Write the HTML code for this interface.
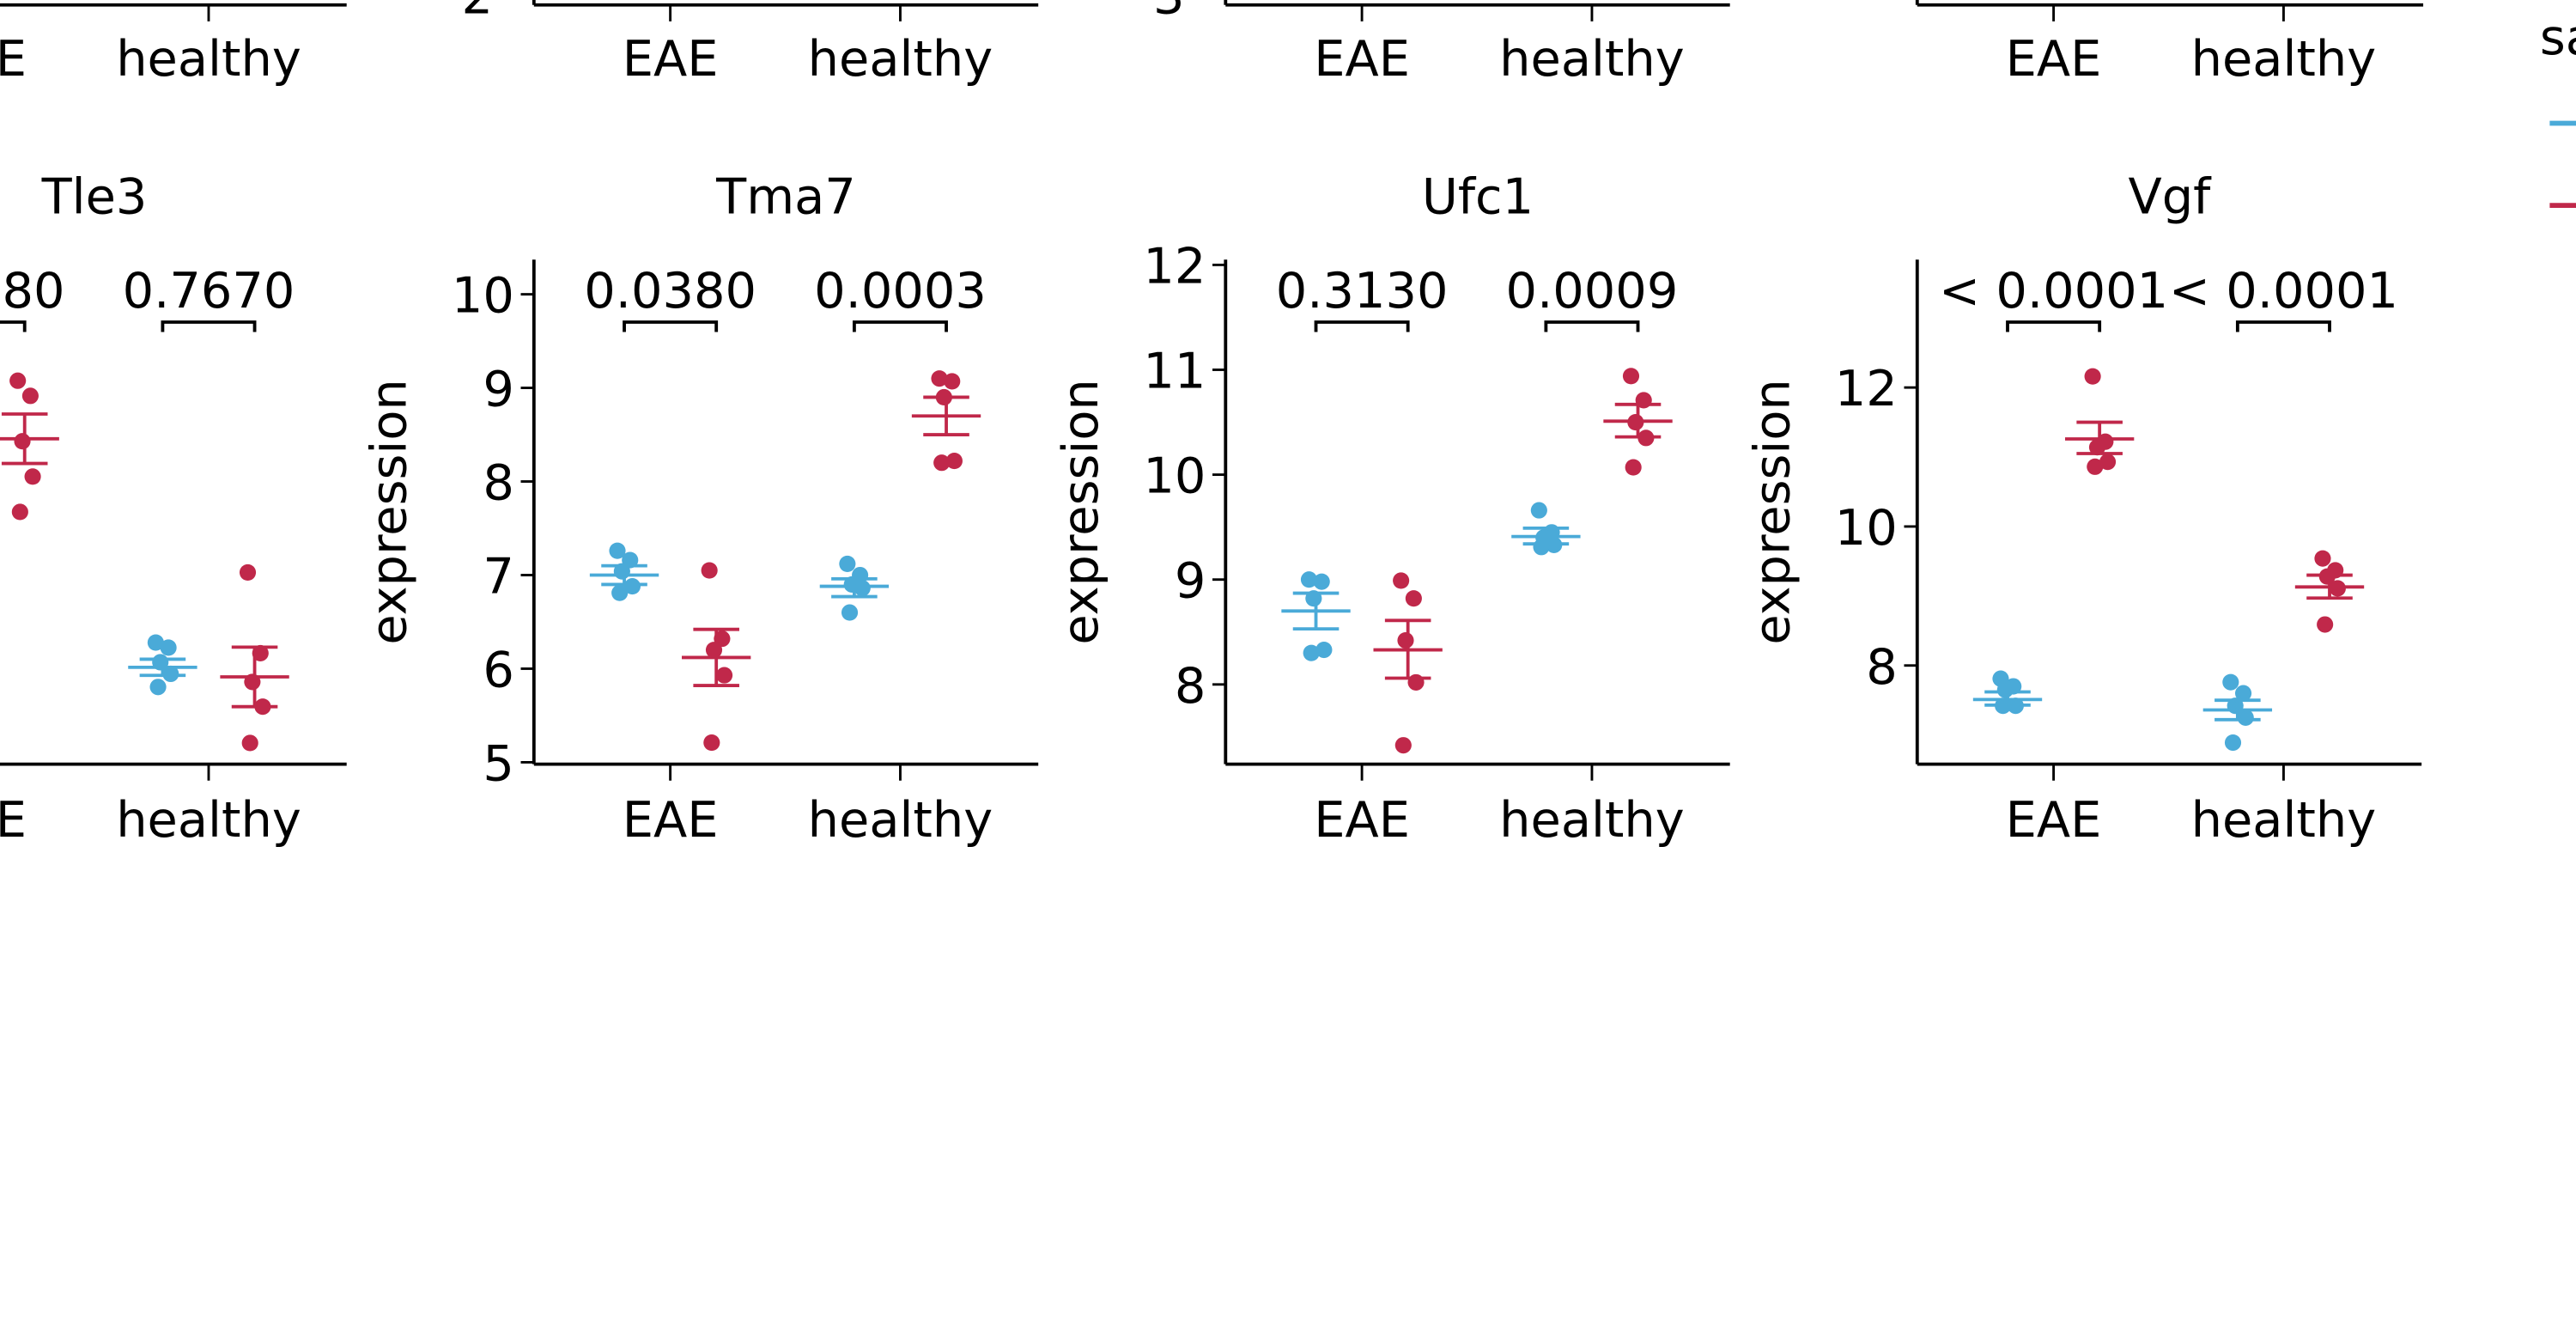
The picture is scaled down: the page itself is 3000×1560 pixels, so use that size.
<!DOCTYPE html>
<html><head><meta charset="utf-8"><style>
html,body{margin:0;padding:0;background:#fff;overflow:hidden}
svg{display:block}
text{font-family:"DejaVu Sans","Liberation Sans",sans-serif;fill:#000}
</style></head><body>
<svg id="chart" xmlns="http://www.w3.org/2000/svg" width="3000" height="1560" viewBox="0 0 1568 815.4" preserveAspectRatio="none"></svg>
<script>
// ---- data ----
const categories = ["EAE", "healthy"];
const genes = ["Tle3", "Tma7", "Ufc1", "Vgf"];
const tle3Blue = [[], [2.41, 2.31, 2.02, 1.79, 1.53]];
const tle3Red = [[7.6, 7.3, 6.4, 5.7, 5.0], [3.8, 2.2, 1.63, 1.14, 0.42]];
const tle3BlueMean = [[null, null, null], [1.92, 2.08, 1.76]];
const tle3RedMean = [[6.45, 6.94, 5.96], [1.73, 2.32, 1.14]];
const tma7Blue = [[7.26, 7.16, 7.04, 6.88, 6.81], [7.12, 7.0, 6.9, 6.86, 6.6]];
const tma7Red = [[7.05, 6.32, 6.2, 5.93, 5.21], [9.1, 9.07, 8.9, 8.22, 8.2]];
const tma7BlueMean = [[7.0, 7.1, 6.9], [6.88, 6.96, 6.77]];
const tma7RedMean = [[6.12, 6.42, 5.82], [8.7, 8.9, 8.5]];
const ufc1Blue = [[9.0, 8.98, 8.82, 8.33, 8.30], [9.66, 9.45, 9.4, 9.33, 9.31]];
const ufc1Red = [[8.99, 8.82, 8.42, 8.02, 7.42], [10.94, 10.71, 10.5, 10.35, 10.07]];
const ufc1BlueMean = [[8.7, 8.87, 8.53], [9.41, 9.49, 9.34]];
const ufc1RedMean = [[8.33, 8.61, 8.06], [10.51, 10.67, 10.36]];
const vgfBlue = [[7.81, 7.7, 7.65, 7.42, 7.42], [7.76, 7.6, 7.42, 7.25, 6.89]];
const vgfRed = [[12.16, 11.22, 11.14, 10.93, 10.86], [9.54, 9.37, 9.28, 9.11, 8.59]];
const vgfBlueMean = [[7.51, 7.62, 7.43], [7.36, 7.5, 7.22]];
const vgfRedMean = [[11.26, 11.5, 11.05], [9.13, 9.3, 8.97]];
const pTle3 = ["0.5780", "0.7670"];
const pTma7 = ["0.0380", "0.0003"];
const pUfc1 = ["0.3130", "0.0009"];
const pVgf = ["< 0.0001", "< 0.0001"];
const ticksTle3 = [];
const ticksTma7 = [5, 6, 7, 8, 9, 10];
const ticksUfc1 = [8, 9, 10, 11, 12];
const ticksVgf = [8, 10, 12];
const domTle3 = [0, 10];
const domTma7 = [4.98, 10.37];
const domUfc1 = [7.24, 12.05];
const domVgf = [6.58, 13.84];
const jitter = [-0.3, 0.25, -0.1, 0.35, -0.2];

const NS = "http://www.w3.org/2000/svg";
const svg = document.getElementById("chart");
const BLUE = "#4aaad8", RED = "#c0284a";
const FS = 30;
function mk(tag, attrs, parent) {
  const e = document.createElementNS(NS, tag);
  for (const k in attrs) e.setAttribute(k, attrs[k]);
  (parent || svg).appendChild(e);
  return e;
}
function txt(s, x, y, size, anchor, parent) {
  const t = mk("text", {x: x, y: y, "font-size": size, "text-anchor": anchor || "middle"}, parent);
  t.textContent = s;
  return t;
}

const topAxes = [[-96, 211], [325, 632], [746, 1053], [1167, 1475]];
topAxes.forEach((ax, i) => {
  const g = mk("g", {});
  
  
  mk("line", {x1: ax[0], y1: 3, x2: ax[1], y2: 3, stroke: "#000", "stroke-width": 2}, g);
  if (i > 0) mk("line", {x1: ax[0], y1: -10, x2: ax[0], y2: 3, stroke: "#000", "stroke-width": 2}, g);
  categories.forEach((c, j) => {
    const x = ax[0] + 83 + j * 140;
    mk("line", {x1: x, y1: 3, x2: x, y2: 13, stroke: "#000", "stroke-width": 1.5}, g);
    txt(c, x, 46, FS, "middle", g);
  });
  if (i === 1) txt("2", 300, 8, FS, "end", g);
  if (i === 2) txt("3", 721, 8, FS, "end", g);
});

const lg = mk("g", {});


txt("sample", 1546, 33, FS, "start", lg);
mk("line", {x1: 1552, y1: 75, x2: 1580, y2: 75, stroke: BLUE, "stroke-width": 3}, lg);
mk("line", {x1: 1552, y1: 125, x2: 1580, y2: 125, stroke: RED, "stroke-width": 3}, lg);

const panels = [
  {name: "Tle3", x0: -96, blue: tle3Blue, red: tle3Red, bm: tle3BlueMean, rm: tle3RedMean, p: pTle3, ticks: ticksTle3, dom: domTle3},
  {name: "Tma7", x0: 325, blue: tma7Blue, red: tma7Red, bm: tma7BlueMean, rm: tma7RedMean, p: pTma7, ticks: ticksTma7, dom: domTma7},
  {name: "Ufc1", x0: 746, blue: ufc1Blue, red: ufc1Red, bm: ufc1BlueMean, rm: ufc1RedMean, p: pUfc1, ticks: ticksUfc1, dom: domUfc1},
  {name: "Vgf", x0: 1167, blue: vgfBlue, red: vgfRed, bm: vgfBlueMean, rm: vgfRedMean, p: pVgf, ticks: ticksVgf, dom: domVgf}
];
const TOP = 158, BOT = 465, W = 307;

panels.forEach(P => {
  const g = mk("g", {});
  
  
  const yS = v => BOT - (v - P.dom[0]) / (P.dom[1] - P.dom[0]) * (BOT - TOP);
  const xS = i => P.x0 + 83 + i * 140;
  const t = txt(P.name, P.x0 + W / 2, 130, FS, "middle", g);
  
  mk("line", {x1: P.x0, y1: TOP, x2: P.x0, y2: BOT, stroke: "#000", "stroke-width": 2}, g);
  mk("line", {x1: P.x0, y1: BOT, x2: P.x0 + W, y2: BOT, stroke: "#000", "stroke-width": 2}, g);
  P.ticks.forEach(v => {
    mk("line", {x1: P.x0 - 8, y1: yS(v), x2: P.x0, y2: yS(v), stroke: "#000", "stroke-width": 1.5}, g);
    txt(String(v), P.x0 - 12, yS(v) + 11, FS, "end", g);
  });
  const yl = txt("expression", 0, 0, FS, "middle", g);
  yl.setAttribute("transform", `translate(${P.x0 - 78},${(TOP + BOT) / 2}) rotate(-90)`);
  
  categories.forEach((c, i) => {
    const x = xS(i);
    mk("line", {x1: x, y1: BOT, x2: x, y2: BOT + 10, stroke: "#000", "stroke-width": 1.5}, g);
    txt(c, x, 509, FS, "middle", g);
    mk("path", {d: `M${x - 28},${202} V${196} H${x + 28} V${202}`, fill: "none", stroke: "#000", "stroke-width": 2}, g);
    const pt = txt(P.p[i], x, 187, FS, "middle", g);
    
    [[P.blue, P.bm, BLUE, -28], [P.red, P.rm, RED, 28]].forEach(([vals, mean, col, off]) => {
      const cx = x + off;
      vals[i].forEach((v, k) => {
        const d = mk("circle", {cx: cx + jitter[k] * 14, cy: yS(v), r: 5, fill: col}, g);
        
        
      });
      const m = mean[i];
      if (m[0] !== null) {
        mk("line", {x1: cx - 21, y1: yS(m[0]), x2: cx + 21, y2: yS(m[0]), stroke: col, "stroke-width": 2}, g);
        mk("line", {x1: cx, y1: yS(m[1]), x2: cx, y2: yS(m[2]), stroke: col, "stroke-width": 2}, g);
        mk("line", {x1: cx - 14, y1: yS(m[1]), x2: cx + 14, y2: yS(m[1]), stroke: col, "stroke-width": 2}, g);
        mk("line", {x1: cx - 14, y1: yS(m[2]), x2: cx + 14, y2: yS(m[2]), stroke: col, "stroke-width": 2}, g);
      }
    });
  });
});
</script>
</body></html>
